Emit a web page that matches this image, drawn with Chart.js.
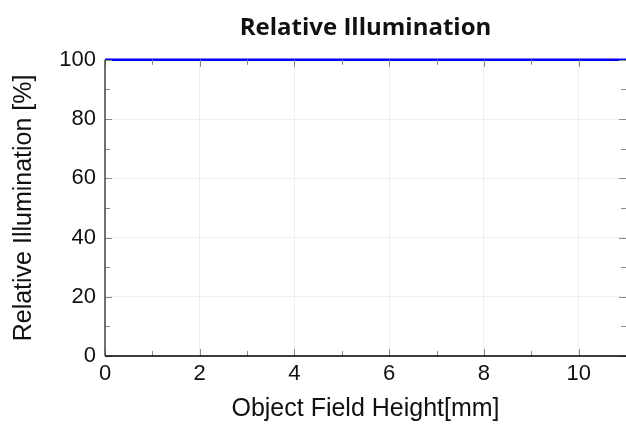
<!DOCTYPE html>
<html><head><meta charset="utf-8">
<script src="https://cdn.jsdelivr.net/npm/chart.js@4"></script>
<style>html,body{margin:0;padding:0;background:#fff}#w{width:626px;height:428px}</style>
</head><body><div id="w"><canvas id="c" width="626" height="428"></canvas></div>
<script>
const fieldHeight = [0, 1, 2, 3, 4, 5, 6, 7, 8, 9, 10, 11];
const relIllum = [100, 100, 100, 100, 100, 100, 100, 100, 100, 100, 100, 100];
const xTicks = [0, 2, 4, 6, 8, 10];
const yTicks = [0, 20, 40, 60, 80, 100];
const titleText = 'Relative Illumination';
const xTitle = 'Object Field Height[mm]';
const yTitle = 'Relative Illumination [%]';

const AXF = 'Liberation Sans';
const innerTicks = {
  id: 'innerTicks',
  afterDatasetsDraw(chart) {
    const {ctx, chartArea: a, scales: {x, y}} = chart;
    ctx.save();
    ctx.strokeStyle = '#8a8a8a';
    ctx.lineWidth = 1;
    for (let v = 0; v <= 11; v++) {
      const px = Math.round(x.getPixelForValue(v)) + 0.5;
      const len = v % 2 === 0 ? 7 : 5;
      ctx.beginPath(); ctx.moveTo(px, a.bottom); ctx.lineTo(px, a.bottom - len); ctx.stroke();
      ctx.beginPath(); ctx.moveTo(px, a.top); ctx.lineTo(px, a.top + len); ctx.stroke();
    }
    for (let v = 0; v <= 100; v += 10) {
      const py = Math.round(y.getPixelForValue(v)) + 0.5;
      const len = v % 20 === 0 ? 7 : 5;
      ctx.beginPath(); ctx.moveTo(a.left, py); ctx.lineTo(a.left + len, py); ctx.stroke();
      ctx.beginPath(); ctx.moveTo(a.right, py); ctx.lineTo(a.right - len, py); ctx.stroke();
    }
    ctx.strokeStyle = '#000';
    ctx.lineWidth = 1.5;
    ctx.beginPath(); ctx.moveTo(a.left, a.bottom); ctx.lineTo(a.right, a.bottom); ctx.stroke();
    ctx.strokeStyle = '#444';
    ctx.beginPath(); ctx.moveTo(a.left, a.top); ctx.lineTo(a.left, a.bottom); ctx.stroke();
    ctx.restore();
  }
};

new Chart(document.getElementById('c'), {
  type: 'line',
  data: {
    datasets: [{
      data: fieldHeight.map((v, i) => ({x: v, y: relIllum[i]})),
      borderColor: '#0000ff',
      borderWidth: 2.5,
      pointRadius: 0,
      tension: 0,
      clip: false
    }]
  },
  options: {
    responsive: false,
    animation: false,
    devicePixelRatio: 1,
    layout: {padding: {left: 0, right: 0, top: 0, bottom: 0}},
    plugins: {
      legend: {display: false},
      tooltip: {enabled: false},
      title: {
        display: true, text: titleText, color: '#111', fullSize: false,
        font: {family: 'Open Sans', weight: 'bold', size: 24, lineHeight: 1.2},
        padding: {top: 14, bottom: 17}
      }
    },
    scales: {
      x: {
        type: 'linear', min: 0, max: 11,
        afterBuildTicks: s => { s.ticks = xTicks.map(v => ({value: v})); },
        afterFit: s => { s.height = 72; },
        grid: {color: '#eeeeee', drawTicks: false, lineWidth: 1},
        border: {display: false},
        ticks: {color: '#111', font: {family: AXF, size: 22}, padding: 5},
        title: {display: true, text: xTitle, color: '#111', font: {family: AXF, size: 25}, padding: {top: 2}}
      },
      y: {
        type: 'linear', min: 0, max: 100,
        afterBuildTicks: s => { s.ticks = yTicks.map(v => ({value: v})); },
        afterFit: s => { s.width = 105; },
        grid: {color: '#eeeeee', drawTicks: false, lineWidth: 1},
        border: {display: false},
        ticks: {color: '#111', font: {family: AXF, size: 22}, padding: 9},
        title: {display: true, text: yTitle, color: '#111', font: {family: AXF, size: 25}, padding: {bottom: 0, top: 9}}
      }
    }
  },
  plugins: [innerTicks]
});
</script></body></html>
